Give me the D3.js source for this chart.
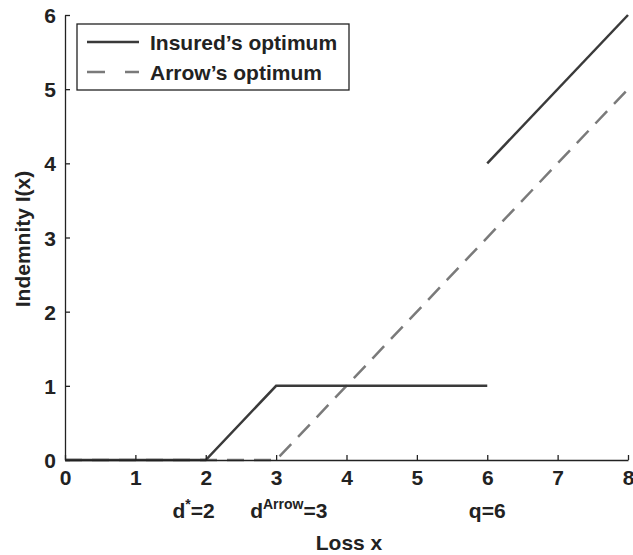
<!DOCTYPE html>
<html>
<head>
<meta charset="utf-8">
<script src="https://d3js.org/d3.v7.min.js"></script>
<style>
  body { margin: 0; background: #fff; }
  text { font-family: "Liberation Sans", Arial, sans-serif; font-weight: bold; fill: #222; }
</style>
</head>
<body>
<div id="chart"></div>
<script>
// data
const xTicks = [0, 1, 2, 3, 4, 5, 6, 7, 8];
const yTicks = [0, 1, 2, 3, 4, 5, 6];
const insuredA = [[0, 0], [2, 0], [3, 1], [6, 1]];
const insuredB = [[6, 4], [8, 6]];
const arrow = [[0, 0], [3, 0], [8, 5]];
const markers = [{ x: 2, base: "d", sup: "*", rest: "=2" },
                 { x: 3, base: "d", sup: "Arrow", rest: "=3" },
                 { x: 6, base: "q=6", sup: "", rest: "" }];
const legendItems = [{ name: "Insured\u2019s optimum", dash: null, color: "#3a3a3a" },
                     { name: "Arrow\u2019s optimum", dash: "18,20", color: "#7a7a7a" }];

const width = 633, height = 555;
const fs = 21;
const svg = d3.select("#chart").append("svg")
    .attr("width", width).attr("height", height);

const x = d3.scaleLinear().domain([0, 8]).range([65, 628]);
const y = d3.scaleLinear().domain([0, 6]).range([460, 15]);

const line = d3.line().x(d => x(d[0])).y(d => y(d[1]));

// arrow's optimum (dashed)
svg.append("path").datum(arrow)
    .attr("d", line).attr("fill", "none")
    .attr("stroke", "#7a7a7a").attr("stroke-width", 2.5)
    .attr("stroke-dasharray", "17,10");

// insured's optimum
[insuredA, insuredB].forEach(seg => {
  svg.append("path").datum(seg)
      .attr("d", line).attr("fill", "none")
      .attr("stroke", "#3a3a3a").attr("stroke-width", 2.5);
});

// axes
const xAxis = svg.append("g").attr("transform", `translate(0,${y(0)})`)
    .call(d3.axisBottom(x).tickValues(xTicks).tickFormat(d3.format("d"))
      .tickSizeInner(-5).tickSizeOuter(0).tickPadding(10));
const yAxis = svg.append("g").attr("transform", `translate(${x(0)},0)`)
    .call(d3.axisLeft(y).tickValues(yTicks).tickFormat(d3.format("d"))
      .tickSizeInner(-5).tickSizeOuter(0).tickPadding(9));
[xAxis, yAxis].forEach(a => {
  a.select(".domain").attr("stroke", "#222").attr("stroke-width", 1.3);
  a.selectAll(".tick line").attr("stroke", "#222").attr("stroke-width", 1.3);
  a.selectAll("text").attr("font-size", fs).attr("font-family", "Liberation Sans, Arial, sans-serif")
      .attr("font-weight", "bold").attr("fill", "#222");
});
xAxis.selectAll(".tick text").attr("dy", "0.72em");
yAxis.selectAll(".tick text").attr("dy", "0.36em");

// marker labels below axis (d* sits left of its tick, d^Arrow right of its tick)
const labelAnchor = { 2: ["end", 9], 3: ["start", -26], 6: ["middle", 0] };
markers.forEach(m => {
  const [anchor, dx] = labelAnchor[m.x];
  const t = svg.append("text").attr("x", x(m.x) + dx).attr("y", 518)
      .attr("text-anchor", anchor).attr("font-size", fs);
  t.append("tspan").text(m.base);
  if (m.sup) {
    t.append("tspan").text(m.sup).attr("font-size", 14).attr("dy", -9);
    t.append("tspan").text(m.rest).attr("dy", 9);
  }
});

// axis titles
svg.append("text").attr("x", 349).attr("y", 550)
    .attr("text-anchor", "middle").attr("font-size", fs).text("Loss x");
svg.append("text").attr("transform", "translate(22,239) rotate(-90)")
    .attr("text-anchor", "middle").attr("dominant-baseline", "central")
    .attr("font-size", fs).text("Indemnity I(x)");

// legend
const lg = svg.append("g");
lg.append("rect").attr("x", 77).attr("y", 24).attr("width", 272).attr("height", 66)
    .attr("fill", "#fff").attr("stroke", "#222").attr("stroke-width", 1.3);
legendItems.forEach((d, i) => {
  const yy = 42 + i * 30;
  lg.append("line").attr("x1", 87).attr("x2", 139).attr("y1", yy).attr("y2", yy)
      .attr("stroke", d.color).attr("stroke-width", 2.5)
      .attr("stroke-dasharray", d.dash);
  lg.append("text").attr("x", 150).attr("y", yy).attr("dominant-baseline", "central")
      .attr("font-size", fs).text(d.name);
});
</script>
</body>
</html>
